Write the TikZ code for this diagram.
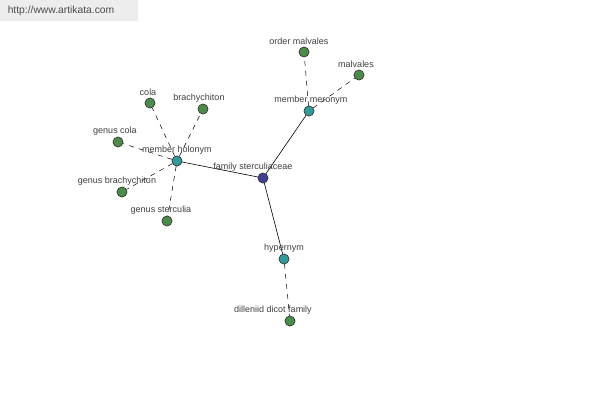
\documentclass[tikz,border=0pt]{standalone}
\usepackage{fontspec}
\setmainfont{Liberation Sans}
\begin{document}
\begin{tikzpicture}[x=1pt,y=-1pt,
  dot/.style={circle,draw=black!80,line width=0.5pt,minimum size=10pt,inner sep=0pt},
  leaf/.style={dot,fill=green!35!black!70!white},
  rel/.style={dot,fill=teal!80!white},
  core/.style={dot,fill=blue!45!black!75!white},
  lbl/.style={font=\fontsize{9}{10}\selectfont,text=black!75,inner sep=0pt},
  dashedge/.style={draw=black,dashed,dash pattern=on 5pt off 5pt,line width=0.5pt},
  solidedge/.style={draw=black,line width=0.6pt}]
\useasboundingbox (0,0) rectangle (600,400);
\fill[white] (0,0) rectangle (600,400);
\fill[black!7] (0,0) rectangle (138,21);
\node[font=\fontsize{10.3}{11}\selectfont,text=black!70,inner sep=0pt] (wm) at (61,11) {http://www.artikata.com};
% nodes
\node[core] (fs) at (263,178) {};
\node[rel] (mh) at (177,161) {};
\node[rel] (mm) at (309,111) {};
\node[rel] (hy) at (284,259) {};
\node[leaf] (om) at (304,52) {};
\node[leaf] (mv) at (359,75) {};
\node[leaf] (co) at (150,103) {};
\node[leaf] (br) at (203,109) {};
\node[leaf] (gc) at (118,142) {};
\node[leaf] (gb) at (122,192) {};
\node[leaf] (gs) at (167,221) {};
\node[leaf] (dd) at (290,321) {};
% edges
\draw[solidedge] (fs) -- (mh);
\draw[solidedge] (fs) -- (mm);
\draw[solidedge] (fs) -- (hy);
\draw[dashedge] (mm) -- (om);
\draw[dashedge] (mm) -- (mv);
\draw[dashedge] (mh) -- (co);
\draw[dashedge] (mh) -- (br);
\draw[dashedge] (mh) -- (gc);
\draw[dashedge] (mh) -- (gb);
\draw[dashedge] (mh) -- (gs);
\draw[dashedge] (hy) -- (dd);
% labels
\node[lbl] (lfs) at (253,167) {family sterculiaceae};
\node[lbl] (lmh) at (177,150) {member holonym};
\node[lbl] (lmm) at (311,100) {member meronym};
\node[lbl] (lhy) at (284,248) {hypernym};
\node[lbl] (lom) at (299,41) {order malvales};
\node[lbl] (lmv) at (356,64) {malvales};
\node[lbl] (lco) at (148,92) {cola};
\node[lbl] (lbr) at (199,98) {brachychiton};
\node[lbl] (lgc) at (115,131) {genus cola};
\node[lbl] (lgb) at (117,181) {genus brachychiton};
\node[lbl] (lgs) at (161,210) {genus sterculia};
\node[lbl] (ldd) at (273,310) {dilleniid dicot family};
% redraw dots on top of edges
\foreach \n/\s in {fs/core,mh/rel,mm/rel,hy/rel,om/leaf,mv/leaf,co/leaf,br/leaf,gc/leaf,gb/leaf,gs/leaf,dd/leaf}{
  \node[\s] at (\n) {};
}
\end{tikzpicture}
\end{document}
